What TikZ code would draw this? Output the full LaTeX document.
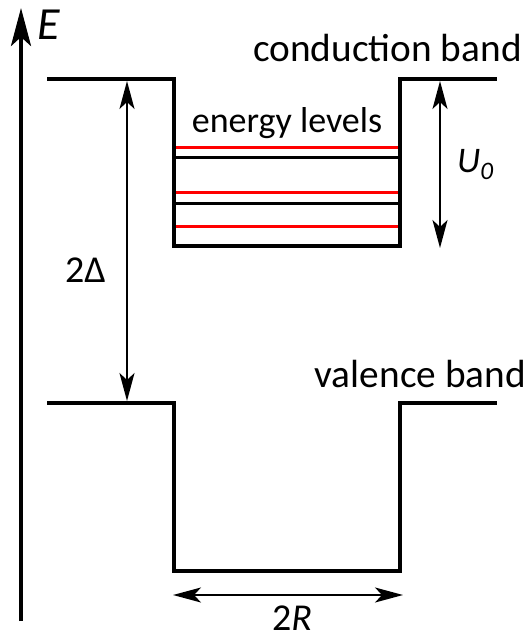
\documentclass[tikz,border=0pt]{standalone}
\usepackage{fontspec}
\setmainfont{Carlito}
\usetikzlibrary{arrows.meta}
\definecolor{lvlred}{RGB}{255,0,0}
\tikzset{
  band/.style={line width=4pt, line join=miter, line cap=butt},
  lvl/.style={line width=3pt},
  dim/.style={line width=2pt, {Stealth[length=28pt,width=15pt,inset=7pt]}-{Stealth[length=28pt,width=15pt,inset=7pt]}},
  axisarrow/.style={line width=4pt, -{Stealth[length=38pt,width=20pt,inset=9pt]}},
  lbl/.style={inner sep=0pt, font=\fontsize{38}{40}\selectfont},
  biglbl/.style={inner sep=0pt, font=\fontsize{39.3}{42}\selectfont},
}
\begin{document}
\begin{tikzpicture}[x=1pt,y=-1pt]
\useasboundingbox (0,0) rectangle (528,639);
% axis
\coordinate (ax0) at (21,621);
\coordinate (ax1) at (21,8);
\draw[axisarrow] (ax0) -- (ax1);
\node[lbl, anchor=base west, font=\fontsize{46}{48}\selectfont\itshape] (E) at (37,40) {E};
% conduction band
\draw[band] (47,79) -- (174,79) -- (174,246) -- (400,246) -- (400,79) -- (497,79);
% valence band
\draw[band] (47,403) -- (174,403) -- (174,571) -- (400,571) -- (400,403) -- (497,403);
% energy levels
\draw[lvl, lvlred] (176,148) -- (398,148);
\draw[lvl, black] (176,158) -- (398,158);
\draw[lvl, lvlred] (176,192) -- (398,192);
\draw[lvl, black] (176,203) -- (398,203);
\draw[lvl, lvlred] (176,226) -- (398,226);
% labels
\node[biglbl, anchor=base east] (cb) at (522,62) {conduction band};
\node[biglbl, anchor=base east] (vb) at (526,387) {valence band};
\node[lbl, anchor=base, font=\fontsize{36}{38}\selectfont] (el) at (287,133) {energy levels};
\node[lbl, anchor=base west, font=\fontsize{36}{38}\selectfont] (U) at (457,172) {\textit{U}\textsubscript{\textit{0}}};
\node[lbl, anchor=base west] (D) at (65,282) {2Δ};
\node[lbl, anchor=base, text depth=0pt] (R) at (292,630) {2\textit{R}};
% dimension arrows
\coordinate (d1) at (127,81);
\coordinate (d2) at (127,401);
\draw[dim] (d1) -- (d2);
\coordinate (u1) at (440,81);
\coordinate (u2) at (440,248);
\draw[dim] (u1) -- (u2);
\coordinate (r1) at (173,595);
\coordinate (r2) at (403,595);
\draw[dim] (r1) -- (r2);
\end{tikzpicture}
\end{document}
